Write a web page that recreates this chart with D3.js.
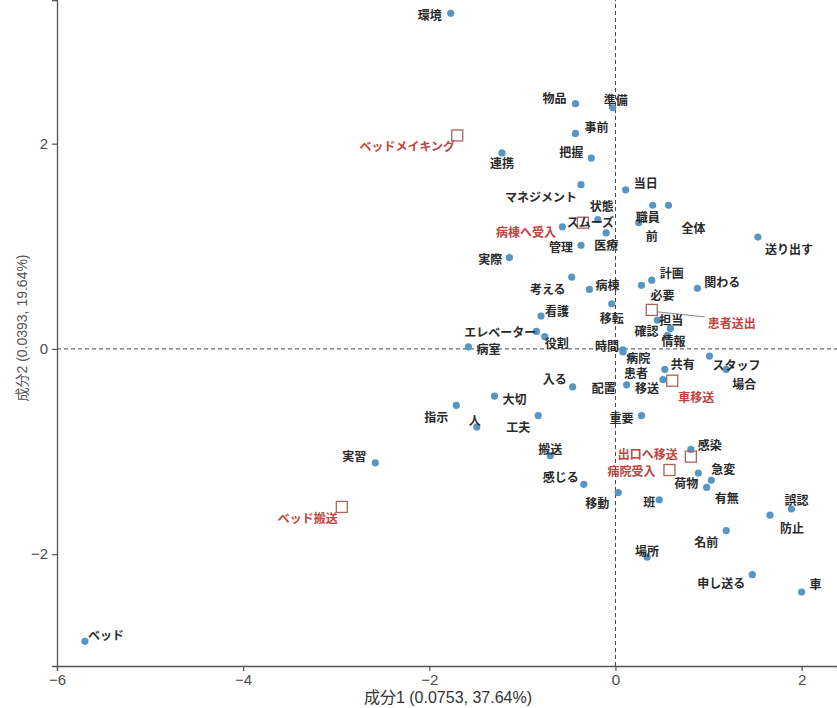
<!DOCTYPE html>
<html>
<head>
<meta charset="utf-8">
<script src="https://cdn.jsdelivr.net/npm/d3@7"></script>
<style>
  body { margin: 0; background: #fff; }
  svg { display: block; }
</style>
</head>
<body>
<div id="app"></div>
<script>
// row points (words)
const rowNames = ["環境","物品","準備","事前","把握","連携","マネジメント","当日","状態","スムーズ","職員","全体","前","医療","管理","実際","送り出す","計画","必要","病棟","考える","関わる","看護","移転","エレベーター","役割","病室","時間","担当","確認","情報","患者","病院","共有","スタッフ","場合","入る","配置","移送","大切","指示","人","工夫","重要","搬送","感染","感じる","急変","荷物","有無","移動","班","誤認","防止","名前","場所","申し送る","車","実習","ベッド"];
const rowX = [-1.77,-0.43,-0.03,-0.43,-0.26,-1.22,-0.37,0.11,-0.19,-0.57,0.40,0.57,0.25,-0.10,-0.37,-1.14,1.53,0.39,0.28,-0.28,-0.47,0.88,-0.80,-0.04,-0.85,-0.76,-1.58,0.08,0.45,0.59,0.56,0.08,0.17,0.53,1.01,1.19,-0.46,0.12,0.51,-1.30,-1.71,-1.49,-0.83,0.28,-0.70,0.81,-0.34,1.03,0.89,0.98,0.03,0.47,1.89,1.66,1.19,0.34,1.47,2.00,-2.58,-5.70];
const rowY = [3.27,2.39,2.35,2.10,1.86,1.91,1.60,1.55,1.26,1.19,1.40,1.40,1.23,1.13,1.01,0.89,1.09,0.67,0.62,0.58,0.70,0.59,0.32,0.44,0.17,0.12,0.02,-0.01,0.28,0.20,0.13,-0.03,-0.08,-0.20,-0.07,-0.20,-0.37,-0.35,-0.30,-0.46,-0.55,-0.76,-0.65,-0.65,-1.04,-0.98,-1.32,-1.28,-1.21,-1.35,-1.40,-1.47,-1.56,-1.62,-1.77,-2.03,-2.20,-2.37,-1.11,-2.85];

// column points (groups)
const colNames = ["ベッドメイキング","病棟へ受入","患者送出","車移送","出口へ移送","病院受入","ベッド搬送"];
const colX = [-1.70,-0.35,0.39,0.61,0.81,0.58,-2.94];
const colY = [2.08,1.23,0.38,-0.31,-1.05,-1.18,-1.54];

const xTicks = [-6, -4, -2, 0, 2];
const yTicks = [-2, 0, 2];
const xTitle = "成分1 (0.0753,  37.64%)";
const yTitle = "成分2 (0.0393, 19.64%)";

// label nudges (px) so the text sits where the repel put it
const nudge = {
  "環境":[-21,1],"物品":[-21,-6],"準備":[3,-8],"事前":[21,-7],"把握":[-20,-7],"連携":[0,10],
  "マネジメント":[-40,12],"当日":[20,-7],"状態":[4,-14],"スムーズ":[28,-5],"職員":[-5,11],"全体":[25,22],
  "前":[13,13],"医療":[0,12],"管理":[-20,1],"実際":[-19,1],"送り出す":[31,11],"計画":[20,-8],
  "必要":[21,9],"病棟":[18,-5],"考える":[-24,11],"関わる":[25,-7],"看護":[16,-6],"移転":[0,14],
  "エレベーター":[-36,0],"役割":[12,6],"病室":[20,2],"時間":[-16,-4],"担当":[14,-1],"確認":[-24,2],
  "情報":[6,5],"患者":[13,21],"病院":[7,0],"共有":[18,-6],"スタッフ":[27,8],"場合":[18,14],
  "入る":[-18,-8],"配置":[-23,3],"移送":[-16,8],"大切":[20,2],"指示":[-20,11],"人":[-2,-7],
  "工夫":[-20,11],"重要":[-20,2],"搬送":[0,-7],"感染":[19,-5],"感じる":[-23,-8],"急変":[12,-12],
  "荷物":[-12,9],"有無":[20,10],"移動":[-21,10],"班":[-10,2],"誤認":[5,-9],"防止":[22,12],
  "名前":[-20,11],"場所":[0,-7],"申し送る":[-31,8],"車":[14,-9],"実習":[-21,-7],"ベッド":[21,-7],
  "ベッドメイキング":[-50,10],"病棟へ受入":[-57,9],"患者送出":[80,13],"車移送":[24,16],
  "出口へ移送":[-43,-3],"病院受入":[-38,1],"ベッド搬送":[-34,11]
};

const width = 837, height = 708;
const margin = { top: 0, right: 0, bottom: 42, left: 57 };

const x = d3.scaleLinear().domain([-6, 2.38]).range([margin.left, width - margin.right]);
const y = d3.scaleLinear().domain([-3.09, 3.40]).range([height - margin.bottom, margin.top]);

const svg = d3.select("#app").append("svg").attr("width", width).attr("height", height);

const font = "'Noto Sans CJK JP', 'Noto Sans', sans-serif";
const titleFont = "'Liberation Sans', 'Noto Sans CJK JP', sans-serif";

// zero reference lines
svg.append("line")
  .attr("x1", x(-6)).attr("x2", x(2.38)).attr("y1", y(0)).attr("y2", y(0))
  .attr("stroke", "#444").attr("stroke-width", 1).attr("stroke-dasharray", "4,3");
svg.append("line")
  .attr("x1", x(0)).attr("x2", x(0)).attr("y1", y(-3.09)).attr("y2", y(3.40))
  .attr("stroke", "#444").attr("stroke-width", 1).attr("stroke-dasharray", "4,3");

// axes
const xAxis = svg.append("g")
  .attr("transform", `translate(0,${height - margin.bottom})`)
  .call(d3.axisBottom(x).tickValues(xTicks).tickSize(5).tickPadding(3).tickFormat(d3.format("d")));
const yAxis = svg.append("g")
  .attr("transform", `translate(${margin.left},0)`)
  .call(d3.axisLeft(y).tickValues(yTicks).tickSize(5).tickPadding(4).tickFormat(d3.format("d")));

[xAxis, yAxis].forEach((g) => {
  g.select(".domain").attr("stroke", "#555").attr("stroke-width", 1.3);
  g.selectAll(".tick line").attr("stroke", "#555").attr("stroke-width", 1.2);
  g.selectAll(".tick text").attr("fill", "#4d4d4d").style("font-size", "15px")
    .style("font-family", "'Liberation Sans', Arial, sans-serif");
});

// axis titles
svg.append("text")
  .text(xTitle)
  .attr("x", 448)
  .attr("y", 703)
  .attr("text-anchor", "middle")
  .attr("fill", "#333")
  .style("font-size", "16px")
  .style("font-family", titleFont);

svg.append("text")
  .text(yTitle)
  .attr("transform", `translate(27,${(height - margin.bottom) / 2 - 5}) rotate(-90)`)
  .attr("text-anchor", "middle")
  .attr("fill", "#555")
  .style("font-size", "14px")
  .style("font-family", titleFont);

const rows = rowNames.map((n, i) => ({ name: n, x: rowX[i], y: rowY[i] }));
const cols = colNames.map((n, i) => ({ name: n, x: colX[i], y: colY[i] }));

// leader line for the one label pushed far away
const far = cols.filter((d) => d.name === "患者送出");
svg.selectAll(".seg").data(far).enter().append("line")
  .attr("x1", (d) => x(d.x) + 6).attr("y1", (d) => y(d.y) + 2)
  .attr("x2", (d) => x(d.x) + nudge[d.name][0] - 27).attr("y2", (d) => y(d.y) + nudge[d.name][1] - 6)
  .attr("stroke", "#888").attr("stroke-width", 1);

// word points
svg.append("g").selectAll("circle").data(rows).enter().append("circle")
  .attr("cx", (d) => x(d.x)).attr("cy", (d) => y(d.y)).attr("r", 3.6)
  .attr("fill", "#5596c4");

// group points
svg.append("g").selectAll("rect").data(cols).enter().append("rect")
  .attr("x", (d) => x(d.x) - 5.5).attr("y", (d) => y(d.y) - 5.5)
  .attr("width", 11).attr("height", 11)
  .attr("fill", "none").attr("stroke", "#a8645c").attr("stroke-width", 1.3);

// labels
svg.append("g").selectAll("text").data(rows).enter().append("text")
  .text((d) => d.name)
  .attr("x", (d) => x(d.x) + nudge[d.name][0])
  .attr("y", (d) => y(d.y) + nudge[d.name][1])
  .attr("text-anchor", "middle").attr("dominant-baseline", "central")
  .attr("fill", "#2a2a2a").style("font-size", "12px").style("font-weight", "700")
  .style("font-family", font);

svg.append("g").selectAll("text").data(cols).enter().append("text")
  .text((d) => d.name)
  .attr("x", (d) => x(d.x) + nudge[d.name][0])
  .attr("y", (d) => y(d.y) + nudge[d.name][1])
  .attr("text-anchor", "middle").attr("dominant-baseline", "central")
  .attr("fill", "#c0443e").style("font-size", "12px").style("font-weight", "700")
  .style("font-family", font);
</script>
</body>
</html>
